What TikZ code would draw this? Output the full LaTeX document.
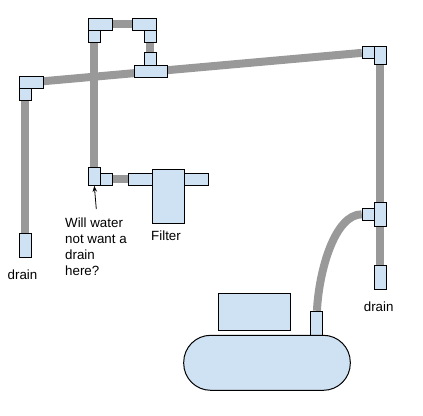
\documentclass[tikz,border=0pt]{standalone}
\usepackage{fontspec}
\setmainfont{Liberation Sans}
\usepackage{tikz}
\usetikzlibrary{arrows.meta,backgrounds}
\definecolor{partblue}{HTML}{CFE2F3}
\definecolor{pipegray}{HTML}{999999}
\tikzset{
part/.style={rectangle,fill=partblue,draw=black,line width=1pt,inner sep=0pt,minimum width=12pt,minimum height=12pt},
pipe/.style={draw=pipegray,line width=8pt},
note/.style={font=\fontsize{13.33}{16}\selectfont,inner sep=0pt,align=left}
}
\begin{document}
\begin{tikzpicture}[x=1pt,y=-1pt,>={Stealth[length=6pt,width=4.5pt]}]
\useasboundingbox (0,0) rectangle (423,415);
% fittings
\node[part,minimum width=24pt] (topleftH) at (100.3,24.3) {};
\node[part] (topleftV) at (94.3,36.3) {};
\node[part,minimum width=24pt] (toprightH) at (144.3,24.3) {};
\node[part] (toprightV) at (150.3,36.3) {};
\node[part,minimum height=13pt] (teeV) at (150.3,58.8) {};
\node[part,minimum width=33pt] (teeH) at (150.8,71.3) {};
\node[part,minimum width=24pt] (leftelbowH) at (31.3,82.3) {};
\node[part] (leftelbowV) at (25.3,94.3) {};
\node[part,minimum height=24pt] (leftdrain) at (25.3,245.5) {};
\node[part] (rightelbowH) at (368.3,52.3) {};
\node[part,minimum height=18pt] (rightelbowV) at (380.3,55.5) {};
\node[part] (rightteeH) at (368.3,214.3) {};
\node[part,minimum height=24pt] (rightteeV) at (380.3,214.3) {};
\node[part,minimum height=24pt] (rightdrain) at (380.3,277.3) {};
\node[part,minimum height=18pt] (lowelbowV) at (94.3,176.3) {};
\node[part] (lowelbowH) at (106.3,179.3) {};
% filter
\node[part,minimum width=24pt] (filterin) at (140.3,179.3) {};
\node[part,minimum width=24pt] (filterout) at (196.3,179.3) {};
\node[part,minimum width=32pt,minimum height=54pt] (filter) at (168.3,196.3) {};
% compressor
\node[part,minimum width=72.4pt,minimum height=37pt] (motor) at (254.5,311.8) {};
\node[part,minimum height=24pt] (outlet) at (316.3,323.3) {};
\node[part,rounded corners=27pt,minimum width=166.6pt,minimum height=55pt] (tank) at (267,362.8) {};
% labels
\node[note,anchor=north west] (question) at (65,218) {Will water\\not want a\\drain\\here?};
\node[note] (filterlabel) at (166,235.7) {Filter};
\node[note] (leftdrainlabel) at (22.5,275) {drain};
\node[note] (rightdrainlabel) at (378.7,306.7) {drain};
\coordinate (questiontop) at (96.3,209);
\draw[->,draw=black,line width=0.8pt] (questiontop) -- (lowelbowV.south);
\begin{scope}[on background layer]
\draw[pipe] (leftelbowH) -- (rightelbowH);
\draw[pipe] (topleftV) -- (lowelbowV);
\draw[pipe] (topleftH) -- (toprightH);
\draw[pipe] (toprightV) -- (teeV);
\draw[pipe] (leftelbowV) -- (leftdrain);
\draw[pipe] (rightelbowV) -- (rightdrain);
\draw[pipe] (lowelbowH) -- (filterin);
\draw[pipe] (outlet) .. controls (319,270) and (335,214.3) .. (rightteeH);
\end{scope}
\end{tikzpicture}
\end{document}
